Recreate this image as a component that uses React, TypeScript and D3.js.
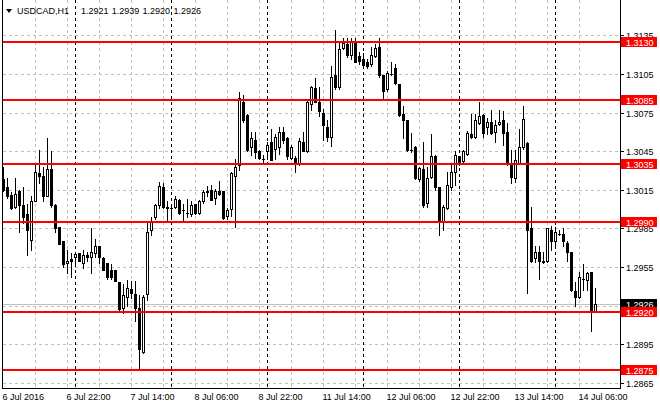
import * as d3 from "d3";

// USDCAD H1 bars, 6 Jul 2016 06:00 .. 14 Jul 2016 10:00
const opens = [
  1.3023, 1.3017, 1.3011, 1.3002, 1.3014, 1.3003, 1.2996, 1.2976, 1.3006, 1.3028,
  1.3026, 1.3010, 1.3031, 1.3003, 1.2986, 1.2975, 1.2958, 1.2961, 1.2963, 1.2966,
  1.2958, 1.2964, 1.2963, 1.2966, 1.2971, 1.2962, 1.2958, 1.2953, 1.2953, 1.2943,
  1.2923, 1.2932, 1.2938, 1.2934, 1.2923, 1.2889, 1.2934, 1.2984, 1.2994, 1.3003,
  1.3017, 1.3002, 1.3001, 1.3002, 1.3007, 1.2999, 1.2997, 1.2996, 1.3004, 1.2997,
  1.3006, 1.3014, 1.3015, 1.3009, 1.3014, 1.3014, 1.2995, 1.3000, 1.3026, 1.3034,
  1.3083, 1.3073, 1.3048, 1.3054, 1.3045, 1.3039, 1.3045, 1.3052, 1.3047, 1.3048,
  1.3060, 1.3055, 1.3040, 1.3040, 1.3035, 1.3052, 1.3045, 1.3082, 1.3094, 1.3083,
  1.3075, 1.3064, 1.3056, 1.3104, 1.3095, 1.3125, 1.3128, 1.3120, 1.3130, 1.3119,
  1.3117, 1.3114, 1.3113, 1.3119, 1.3126, 1.3104, 1.3093, 1.3105, 1.3110, 1.3097,
  1.3074, 1.3069, 1.3046, 1.3048, 1.3023, 1.3031, 1.3005, 1.3025, 1.3041, 1.3017,
  1.2991, 1.3001, 1.3017, 1.3029, 1.3041, 1.3037, 1.3043, 1.3058, 1.3056, 1.3067,
  1.3073, 1.3064, 1.3068, 1.3060, 1.3066, 1.3069, 1.3060, 1.3034, 1.3024, 1.3036,
  1.3048, 1.3051, 1.2985, 1.2962, 1.2967, 1.2960, 1.2960, 1.2984, 1.2975, 1.2981,
  1.2981, 1.2974, 1.2967, 1.2936, 1.2932, 1.2946, 1.2945, 1.2951, 1.2921,
];
const highs = [
  1.3033, 1.3024, 1.3013, 1.3024, 1.3015, 1.3017, 1.3004, 1.3010, 1.3036, 1.3046,
  1.3033, 1.3055, 1.3045, 1.3004, 1.2986, 1.2975, 1.2968, 1.2966, 1.2967, 1.2966,
  1.2968, 1.2967, 1.2985, 1.2977, 1.2971, 1.2963, 1.2958, 1.2957, 1.2953, 1.2943,
  1.2942, 1.2945, 1.2944, 1.2944, 1.2933, 1.2933, 1.2989, 1.2994, 1.3004, 1.3021,
  1.3020, 1.3006, 1.3003, 1.3010, 1.3008, 1.3004, 1.3008, 1.3006, 1.3004, 1.3007,
  1.3015, 1.3018, 1.3019, 1.3016, 1.3022, 1.3014, 1.3001, 1.3029, 1.3039, 1.3091,
  1.3089, 1.3074, 1.3060, 1.3060, 1.3046, 1.3042, 1.3052, 1.3062, 1.3058, 1.3064,
  1.3064, 1.3056, 1.3050, 1.3041, 1.3055, 1.3060, 1.3085, 1.3096, 1.3102, 1.3095,
  1.3078, 1.3069, 1.3111, 1.3139, 1.3130, 1.3133, 1.3133, 1.3133, 1.3133, 1.3122,
  1.3121, 1.3117, 1.3126, 1.3128, 1.3133, 1.3104, 1.3107, 1.3114, 1.3113, 1.3097,
  1.3080, 1.3069, 1.3059, 1.3049, 1.3033, 1.3052, 1.3033, 1.3058, 1.3042, 1.3017,
  1.3003, 1.3029, 1.3034, 1.3045, 1.3041, 1.3046, 1.3061, 1.3074, 1.3074, 1.3083,
  1.3074, 1.3071, 1.3077, 1.3069, 1.3077, 1.3076, 1.3067, 1.3046, 1.3046, 1.3062,
  1.3080, 1.3052, 1.3002, 1.2971, 1.2971, 1.2967, 1.2985, 1.2987, 1.2986, 1.2984,
  1.2985, 1.2975, 1.2967, 1.2943, 1.2951, 1.2957, 1.2951, 1.2951, 1.2939,
];
const lows = [
  1.3014, 1.3009, 1.3000, 1.3001, 1.2982, 1.2989, 1.2964, 1.2968, 1.3006, 1.3020,
  1.3006, 1.3010, 1.3002, 1.2982, 1.2973, 1.2955, 1.2950, 1.2947, 1.2957, 1.2960,
  1.2954, 1.2960, 1.2950, 1.2963, 1.2958, 1.2953, 1.2946, 1.2946, 1.2944, 1.2920,
  1.2919, 1.2925, 1.2931, 1.2913, 1.2876, 1.2888, 1.2929, 1.2980, 1.2992, 1.3001,
  1.3001, 1.2991, 1.2992, 1.3001, 1.2996, 1.2991, 1.2994, 1.2995, 1.2996, 1.2996,
  1.3005, 1.3010, 1.3007, 1.3004, 1.3011, 1.2992, 1.2992, 1.2995, 1.2986, 1.3030,
  1.3068, 1.3045, 1.3042, 1.3040, 1.3039, 1.3036, 1.3039, 1.3038, 1.3039, 1.3043,
  1.3051, 1.3039, 1.3039, 1.3029, 1.3034, 1.3045, 1.3044, 1.3077, 1.3083, 1.3072,
  1.3054, 1.3053, 1.3049, 1.3093, 1.3093, 1.3124, 1.3118, 1.3117, 1.3114, 1.3113,
  1.3111, 1.3110, 1.3111, 1.3118, 1.3103, 1.3086, 1.3092, 1.3104, 1.3097, 1.3072,
  1.3055, 1.3045, 1.3044, 1.3023, 1.3022, 1.3002, 1.3002, 1.3024, 1.3015, 1.2980,
  1.2984, 1.3000, 1.3015, 1.3019, 1.3034, 1.3036, 1.3042, 1.3055, 1.3055, 1.3066,
  1.3056, 1.3058, 1.3058, 1.3052, 1.3065, 1.3050, 1.3034, 1.3020, 1.3021, 1.3035,
  1.3047, 1.2935, 1.2959, 1.2959, 1.2946, 1.2958, 1.2959, 1.2968, 1.2972, 1.2980,
  1.2971, 1.2960, 1.2936, 1.2925, 1.2931, 1.2937, 1.2937, 1.2905, 1.2920,
];
const closes = [
  1.3015, 1.3010, 1.3001, 1.3012, 1.3003, 1.2994, 1.2984, 1.3006, 1.3029, 1.3026,
  1.3010, 1.3031, 1.3003, 1.2985, 1.2973, 1.2957, 1.2960, 1.2960, 1.2965, 1.2960,
  1.2964, 1.2963, 1.2967, 1.2971, 1.2963, 1.2953, 1.2947, 1.2947, 1.2944, 1.2922,
  1.2933, 1.2939, 1.2935, 1.2923, 1.2891, 1.2932, 1.2982, 1.2990, 1.3003, 1.3018,
  1.3002, 1.3001, 1.3001, 1.3008, 1.2997, 1.2999, 1.2997, 1.3003, 1.2997, 1.3006,
  1.3013, 1.3013, 1.3007, 1.3014, 1.3012, 1.2993, 1.2999, 1.3028, 1.3033, 1.3086,
  1.3069, 1.3046, 1.3055, 1.3044, 1.3040, 1.3039, 1.3050, 1.3038, 1.3056, 1.3060,
  1.3054, 1.3041, 1.3048, 1.3035, 1.3053, 1.3045, 1.3083, 1.3095, 1.3083, 1.3076,
  1.3065, 1.3056, 1.3103, 1.3095, 1.3124, 1.3129, 1.3120, 1.3130, 1.3114, 1.3115,
  1.3112, 1.3111, 1.3120, 1.3125, 1.3104, 1.3092, 1.3106, 1.3105, 1.3098, 1.3073,
  1.3069, 1.3046, 1.3046, 1.3024, 1.3032, 1.3003, 1.3024, 1.3041, 1.3017, 1.2990,
  1.3002, 1.3019, 1.3029, 1.3042, 1.3036, 1.3045, 1.3059, 1.3056, 1.3069, 1.3072,
  1.3059, 1.3068, 1.3059, 1.3065, 1.3068, 1.3059, 1.3035, 1.3025, 1.3038, 1.3048,
  1.3070, 1.2984, 1.2960, 1.2967, 1.2960, 1.2959, 1.2985, 1.2975, 1.2982, 1.2981,
  1.2975, 1.2967, 1.2937, 1.2932, 1.2947, 1.2946, 1.2950, 1.2921, 1.2926,
];

const timeLabels = [
  "6 Jul 2016", "6 Jul 22:00", "7 Jul 14:00", "8 Jul 06:00", "8 Jul 22:00",
  "11 Jul 14:00", "12 Jul 06:00", "12 Jul 22:00", "13 Jul 14:00", "14 Jul 06:00",
];
const timeLabelBars = [0, 16, 32, 48, 64, 80, 96, 112, 128, 144];
const daySeparators = [18, 42, 66, 90, 114, 138];
const priceTicks = [
  1.2865, 1.2895, 1.2925, 1.2955, 1.2985, 1.3015, 1.3045, 1.3075, 1.3105, 1.3135,
];
const levels = [1.313, 1.3085, 1.3035, 1.299, 1.292, 1.2875];

const FONT = "'Liberation Sans', Arial, sans-serif";

const App = () => {
  const width = 660;
  const height = 410;
  const plot = { left: 2, right: 620, top: 0, bottom: 388 };
  const n = closes.length;

  const xScale = d3
    .scaleBand<number>()
    .domain(d3.range(n))
    .range([1, 1 + 4 * n]);
  const yScale = d3.scaleLinear().domain([1.2861, 1.31609]).range([388, 2]);

  const cx = (i: number) => xScale(i)! + 2;
  const py = (v: number) => Math.round(yScale(v));

  const last = n - 1;
  const header = [opens[last], highs[last], lows[last], closes[last]];
  const lastPrice = closes[last];

  // tick labels hidden behind the current price box are not drawn
  const tickLabels = priceTicks.filter(
    (t) => Math.abs(py(t) - py(lastPrice)) > 4
  );

  return (
    <svg
      width={width}
      height={height}
      style={{ position: "fixed", left: 0, top: 0, display: "block", background: "#fff" }}
      fontFamily={FONT}
      fontSize={9}
    >
      <rect width={width} height={height} fill="#fff" />
      <g shapeRendering="crispEdges">
        {/* horizontal grid */}
        {priceTicks.map((t) => (
          <line
            key={"hg" + t}
            x1={plot.left + 1}
            x2={plot.right}
            y1={py(t) + 0.5}
            y2={py(t) + 0.5}
            stroke="#c0c0c0"
            strokeDasharray="3,3"
          />
        ))}
        {/* vertical grid every 8 bars */}
        {d3.range(8, n, 8).map((i) => (
          <line
            key={"vg" + i}
            x1={cx(i) + 0.5}
            x2={cx(i) + 0.5}
            y1={plot.top}
            y2={plot.bottom}
            stroke="#c0c0c0"
            strokeDasharray="3,3"
          />
        ))}
        {/* period separators */}
        {daySeparators.map((i) => (
          <line
            key={"sep" + i}
            x1={cx(i) + 0.5}
            x2={cx(i) + 0.5}
            y1={plot.top}
            y2={plot.bottom}
            stroke="#000"
            strokeDasharray="3,3"
          />
        ))}
        {/* current price line */}
        <line
          x1={plot.left + 1}
          x2={plot.right}
          y1={py(lastPrice) + 0.5}
          y2={py(lastPrice) + 0.5}
          stroke="#c0c0c0"
        />

        {/* candles */}
        {closes.map((c, i) => {
          const o = opens[i];
          const x = cx(i);
          const yH = py(highs[i]);
          const yL = py(lows[i]);
          const top = Math.min(py(o), py(c));
          const bot = Math.max(py(o), py(c));
          return (
            <g key={"c" + i}>
              <rect x={x} y={yH} width={1} height={yL - yH + 1} fill="#000" />
              <rect x={x - 1} y={top} width={3} height={bot - top + 1} fill="#000" />
              {c > o && bot - top >= 2 && (
                <rect x={x} y={top + 1} width={1} height={bot - top - 1} fill="#fff" />
              )}
            </g>
          );
        })}

        {/* horizontal level lines */}
        {levels.map((v) => (
          <line
            key={"lv" + v}
            x1={plot.left + 1}
            x2={plot.right}
            y1={py(v)}
            y2={py(v)}
            stroke="#ff0000"
            strokeWidth={2}
          />
        ))}

        {/* frame */}
        <line x1={plot.left + 0.5} x2={plot.left + 0.5} y1={0} y2={plot.bottom + 1} stroke="#000" />
        <line x1={plot.right + 0.5} x2={plot.right + 0.5} y1={0} y2={plot.bottom + 1} stroke="#000" />
        <line x1={plot.left} x2={plot.right + 1} y1={plot.bottom + 0.5} y2={plot.bottom + 0.5} stroke="#000" />

        {/* price axis ticks */}
        {priceTicks.map((t) => (
          <line
            key={"pt" + t}
            x1={plot.right + 1}
            x2={plot.right + 4}
            y1={py(t) + 0.5}
            y2={py(t) + 0.5}
            stroke="#000"
          />
        ))}
      </g>

      {/* price axis labels */}
      {tickLabels.map((t) => (
        <text key={"pl" + t} x={626} y={py(t) + 3.5} fill="#000">
          {t.toFixed(4)}
        </text>
      ))}

      {/* current price box */}
      <rect x={621} y={py(lastPrice) - 5} width={36} height={10} fill="#000" shapeRendering="crispEdges" />
      <text x={626} y={py(lastPrice) + 3.5} fill="#fff">
        {lastPrice.toFixed(4)}
      </text>

      {/* level boxes */}
      {levels.map((v) => (
        <g key={"lb" + v}>
          <rect x={621} y={py(v) - 5} width={36} height={10} fill="#ff0000" shapeRendering="crispEdges" />
          <text x={626} y={py(v) + 3.5} fill="#fff">
            {v.toFixed(4)}
          </text>
        </g>
      ))}

      {/* time axis labels */}
      {timeLabels.map((label, k) => (
        <text key={"tl" + k} x={xScale(timeLabelBars[k])! + 1.5} y={400} fill="#000">
          {label}
        </text>
      ))}

      {/* header */}
      <polygon points="6,9 12,9 9,13" fill="#000" />
      <text x={17} y={14} fill="#000">
        USDCAD,H1
      </text>
      {header.map((v, k) => (
        <text key={"hd" + k} x={81 + k * 30.8} y={14} fill="#000">
          {v.toFixed(4)}
        </text>
      ))}
    </svg>
  );
};

export default App;
